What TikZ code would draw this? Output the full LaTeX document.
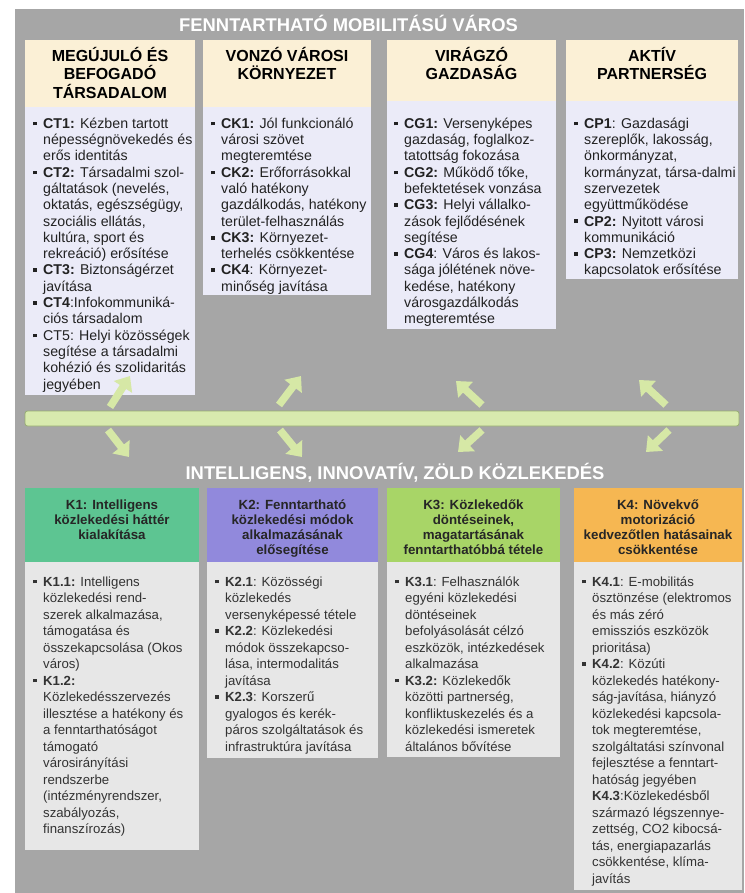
\documentclass[tikz,border=0pt]{standalone}
\usepackage{fontspec}
\setmainfont{Liberation Sans}
\usetikzlibrary{arrows.meta}
\definecolor{bggrey}{HTML}{A6A6A6}
\definecolor{beige}{HTML}{FBF0D6}
\definecolor{lav}{HTML}{EBEBF8}
\definecolor{lgrey}{HTML}{E7E7E7}
\definecolor{kone}{HTML}{5DC592}
\definecolor{ktwo}{HTML}{9189DC}
\definecolor{kthree}{HTML}{A8D567}
\definecolor{kfour}{HTML}{F6B752}
\definecolor{barfill}{HTML}{D8EAAE}
\definecolor{barline}{HTML}{97AD72}
\definecolor{arrfill}{HTML}{D6E8A6}
\definecolor{txtdark}{HTML}{222222}
\definecolor{txtgrey}{HTML}{333333}
\newcommand\mybul{\makebox[10pt][l]{\raisebox{2.8pt}{\rule{3.8pt}{3.8pt}}}}
\newcommand\myind{\hspace*{10pt}}
\newcommand\tsA{\rule{0pt}{15pt}}
\newcommand\tsB{\rule{0pt}{12pt}}
\newcommand\tsC{\rule{0pt}{11pt}}
\begin{document}
\begin{tikzpicture}[x=1pt,y=-1pt,
  boxsh/.style={draw=none,inner sep=0pt,outer sep=0pt,anchor=north west},
  hdrtext/.style={inner sep=0pt,anchor=north,align=center,font=\bfseries\fontsize{16}{18.5}\selectfont,text=black},
  bodytext/.style={inner sep=0pt,anchor=north west,align=left,font=\fontsize{14.2}{16.3}\selectfont,text=txtdark},
  khdrtext/.style={inner sep=0pt,anchor=north,align=center,font=\bfseries\fontsize{13.3}{15}\selectfont,text=black!85},
  kbodytext/.style={inner sep=0pt,anchor=north west,align=left,font=\fontsize{13.2}{16.5}\selectfont,text=txtgrey},
  titletext/.style={inner sep=0pt,anchor=base,font=\bfseries\fontsize{18.4}{20}\selectfont,text=white},
  blockarrow/.style={draw=arrfill,line width=7.5pt,-{Triangle[length=13pt,width=21pt]},fill=arrfill}
]
\useasboundingbox (0,0) rectangle (744,893);
\fill[white] (0,0) rectangle (744,893);
\fill[bggrey] (15,9) rectangle (744,893);

% titles
\node[titletext] (title1) at (348.5,32) {FENNTARTHATÓ MOBILITÁSÚ VÁROS};
\node[titletext] (title2) at (395,479) {INTELLIGENS, INNOVATÍV, ZÖLD KÖZLEKEDÉS};

% top boxes
\node[boxsh,fill=beige,minimum width=170pt,minimum height=67pt] (h1) at (25,40) {};
\node[boxsh,fill=lav,minimum width=170pt,minimum height=288pt] (b1) at (25,107) {};
\node[boxsh,fill=beige,minimum width=168pt,minimum height=67pt] (h2) at (203,40) {};
\node[boxsh,fill=lav,minimum width=168pt,minimum height=188pt] (b2) at (203,107) {};
\node[boxsh,fill=beige,minimum width=169pt,minimum height=61pt] (h3) at (387,40) {};
\node[boxsh,fill=lav,minimum width=169pt,minimum height=228pt] (b3) at (387,101) {};
\node[boxsh,fill=beige,minimum width=172pt,minimum height=61pt] (h4) at (566,40) {};
\node[boxsh,fill=lav,minimum width=172pt,minimum height=178pt] (b4) at (566,101) {};

\node[hdrtext] (h1t) at (110,46) {\tsA MEGÚJULÓ ÉS\\BEFOGADÓ\\TÁRSADALOM};
\node[hdrtext] (h2t) at (287,46) {\tsA VONZÓ VÁROSI\\KÖRNYEZET};
\node[hdrtext] (h3t) at (471.5,46) {\tsA VIRÁGZÓ\\GAZDASÁG};
\node[hdrtext] (h4t) at (652,46) {\tsA AKTÍV\\PARTNERSÉG};

\node[bodytext] (b1t) at (33,116) {\tsB\mybul\textbf{CT1:} Kézben tartott\\
\myind népességnövekedés és\\
\myind erős identitás\\
\mybul\textbf{CT2:} Társadalmi szol-\\
\myind gáltatások (nevelés,\\
\myind oktatás, egészségügy,\\
\myind szociális ellátás,\\
\myind kultúra, sport és\\
\myind rekreáció) erősítése\\
\mybul\textbf{CT3:} Biztonságérzet\\
\myind javítása\\
\mybul\textbf{CT4}:Infokommuniká-\\
\myind ciós társadalom\\
\mybul CT5: Helyi közösségek\\
\myind segítése a társadalmi\\
\myind kohézió és szolidaritás\\
\myind jegyében};

\node[bodytext] (b2t) at (211,116) {\tsB\mybul\textbf{CK1:} Jól funkcionáló\\
\myind városi szövet\\
\myind megteremtése\\
\mybul\textbf{CK2:} Erőforrásokkal\\
\myind való hatékony\\
\myind gazdálkodás, hatékony\\
\myind terület-felhasználás\\
\mybul\textbf{CK3:} Környezet-\\
\myind terhelés csökkentése\\
\mybul\textbf{CK4}: Környezet-\\
\myind minőség javítása};

\node[bodytext] (b3t) at (394,116) {\tsB\mybul\textbf{CG1:} Versenyképes\\
\myind gazdaság, foglalkoz-\\
\myind tatottság fokozása\\
\mybul\textbf{CG2:} Működő tőke,\\
\myind befektetések vonzása\\
\mybul\textbf{CG3:} Helyi vállalko-\\
\myind zások fejlődésének\\
\myind segítése\\
\mybul\textbf{CG4}: Város és lakos-\\
\myind sága jólétének növe-\\
\myind kedése, hatékony\\
\myind városgazdálkodás\\
\myind megteremtése};

\node[bodytext] (b4t) at (574,116) {\tsB\mybul\textbf{CP1}: Gazdasági\\
\myind szereplők, lakosság,\\
\myind önkormányzat,\\
\myind kormányzat, társa-dalmi\\
\myind szervezetek\\
\myind együttműködése\\
\mybul\textbf{CP2:} Nyitott városi\\
\myind kommunikáció\\
\mybul\textbf{CP3:} Nemzetközi\\
\myind kapcsolatok erősítése};

% bar
\node[boxsh,fill=barfill,draw=barline,line width=0.8pt,rounded corners=2.5pt,minimum width=714pt,minimum height=15pt] (bar) at (25,411) {};

% arrows
\coordinate (u1s) at (110,407); \coordinate (u1e) at (130,376);
\coordinate (u2s) at (279,405); \coordinate (u2e) at (301,376);
\coordinate (u3s) at (482,405); \coordinate (u3e) at (456,381);
\coordinate (u4s) at (666,405); \coordinate (u4e) at (639,380);
\coordinate (d1s) at (108,430); \coordinate (d1e) at (129,457);
\coordinate (d2s) at (280,430); \coordinate (d2e) at (302,457);
\coordinate (d3s) at (482,430); \coordinate (d3e) at (458,452);
\coordinate (d4s) at (669,430); \coordinate (d4e) at (646,452);
\foreach \a in {u1,u2,u3,u4,d1,d2,d3,d4}{\draw[blockarrow] (\a s) -- (\a e);}

% bottom boxes
\node[boxsh,fill=kone,minimum width=174pt,minimum height=74pt] (k1h) at (25,488) {};
\node[boxsh,fill=lgrey,minimum width=174pt,minimum height=288pt] (k1b) at (25,562) {};
\node[boxsh,fill=ktwo,minimum width=171pt,minimum height=74pt] (k2h) at (207,488) {};
\node[boxsh,fill=lgrey,minimum width=171pt,minimum height=196pt] (k2b) at (207,562) {};
\node[boxsh,fill=kthree,minimum width=173pt,minimum height=74pt] (k3h) at (387,488) {};
\node[boxsh,fill=lgrey,minimum width=173pt,minimum height=195pt] (k3b) at (387,562) {};
\node[boxsh,fill=kfour,minimum width=168pt,minimum height=74pt] (k4h) at (574,488) {};
\node[boxsh,fill=lgrey,minimum width=168pt,minimum height=328pt] (k4b) at (574,562) {};

\node[khdrtext] (k1ht) at (112,498.5) {\tsC K1: Intelligens\\közlekedési háttér\\kialakítása};
\node[khdrtext] (k2ht) at (292.5,498.5) {\tsC K2: Fenntartható\\közlekedési módok\\alkalmazásának\\elősegítése};
\node[khdrtext] (k3ht) at (473.5,498.5) {\tsC K3: Közlekedők\\döntéseinek,\\magatartásának\\fenntarthatóbbá tétele};
\node[khdrtext] (k4ht) at (658,498.5) {\tsC K4: Növekvő\\motorizáció\\kedvezőtlen hatásainak\\csökkentése};

\node[kbodytext] (k1bt) at (33,575) {\tsC\mybul\textbf{K1.1:} Intelligens\\
\myind közlekedési rend-\\
\myind szerek alkalmazása,\\
\myind támogatása és\\
\myind összekapcsolása (Okos\\
\myind város)\\
\mybul\textbf{K1.2:}\\
\myind Közlekedésszervezés\\
\myind illesztése a hatékony és\\
\myind a fenntarthatóságot\\
\myind támogató\\
\myind városirányítási\\
\myind rendszerbe\\
\myind (intézményrendszer,\\
\myind szabályozás,\\
\myind finanszírozás)};

\node[kbodytext] (k2bt) at (215,575) {\tsC\mybul\textbf{K2.1}: Közösségi\\
\myind közlekedés\\
\myind versenyképessé tétele\\
\mybul\textbf{K2.2}: Közlekedési\\
\myind módok összekapcso-\\
\myind lása, intermodalitás\\
\myind javítása\\
\mybul\textbf{K2.3}: Korszerű\\
\myind gyalogos és kerék-\\
\myind páros szolgáltatások és\\
\myind infrastruktúra javítása};

\node[kbodytext] (k3bt) at (395,575) {\tsC\mybul\textbf{K3.1}: Felhasználók\\
\myind egyéni közlekedési\\
\myind döntéseinek\\
\myind befolyásolását célzó\\
\myind eszközök, intézkedések\\
\myind alkalmazása\\
\mybul\textbf{K3.2:} Közlekedők\\
\myind közötti partnerség,\\
\myind konfliktuskezelés és a\\
\myind közlekedési ismeretek\\
\myind általános bővítése};

\node[kbodytext] (k4bt) at (582,575) {\tsC\mybul\textbf{K4.1}: E-mobilitás\\
\myind ösztönzése (elektromos\\
\myind és más zéró\\
\myind emissziós eszközök\\
\myind prioritása)\\
\mybul\textbf{K4.2}: Közúti\\
\myind közlekedés hatékony-\\
\myind ság-javítása, hiányzó\\
\myind közlekedési kapcsola-\\
\myind tok megteremtése,\\
\myind szolgáltatási színvonal\\
\myind fejlesztése a fenntart-\\
\myind hatóság jegyében\\
\myind\textbf{K4.3}:Közlekedésből\\
\myind származó légszennye-\\
\myind zettség, CO2 kibocsá-\\
\myind tás, energiapazarlás\\
\myind csökkentése, klíma-\\
\myind javítás};
\end{tikzpicture}
\end{document}
